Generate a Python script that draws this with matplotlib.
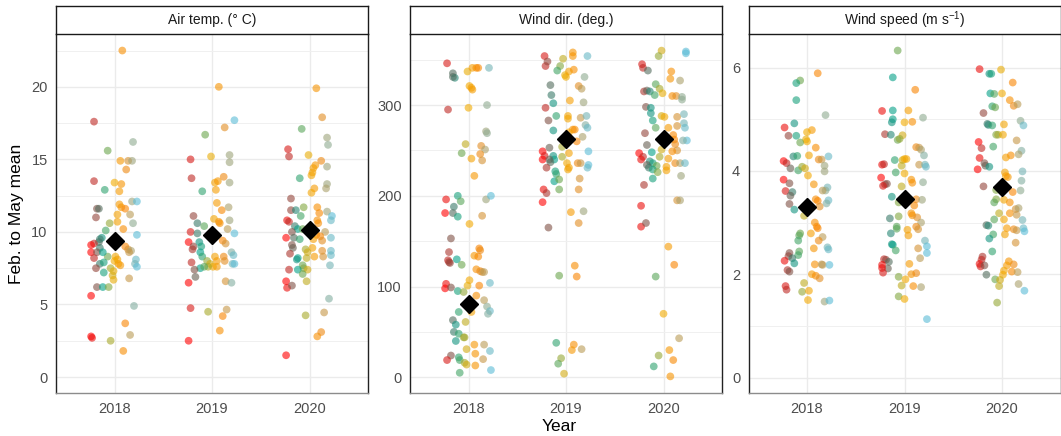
import matplotlib
matplotlib.use('Agg')
import matplotlib.pyplot as plt
import numpy as np
from matplotlib.colors import LinearSegmentedColormap
from matplotlib.ticker import MultipleLocator

plt.rcParams['font.family'] = ['Liberation Sans', 'DejaVu Sans']
plt.rcParams['mathtext.fontset'] = 'custom'
plt.rcParams['mathtext.rm'] = 'Liberation Sans'
plt.rcParams['mathtext.it'] = 'Liberation Sans:italic'

# ---------------- data ----------------
years = [2018, 2019, 2020]
panel_titles = ['Air temp. (° C)', 'Wind dir. (deg.)', 'Wind speed (m s$^{-1}$)']
y_label = 'Feb. to May mean'
x_label = 'Year'

# jitter (hundredths of a year) and value for every station point
air_2018_jit = [8,-21,19,-7,-21,6,14,18,12,0,7,-10,5,18,23,5,7,11,-18,-16,-19,3,16,19,-5,3,9,-9,23,-13,-16,-21,-24,-15,11,14,17,-24,-18,-7,-21,1,3,22,21,23,6,-15,-11,-19,-11,-4,-1,-2,-1,15,-18,-12,-6,-24,20,11,16,-4,-24,-23,9,-15,-12,0,4,15]
air_2018_val = [22.5,17.6,16.2,15.6,13.5,14.9,14.9,14.9,14.3,13.4,13.3,12.9,12.8,12.1,12.1,11.9,11.7,11.6,11.6,11.6,11.0,11.2,11.2,10.6,10.6,10.7,10.2,10.1,9.8,9.6,9.3,9.2,9.1,8.9,9.0,8.8,8.7,8.6,8.6,8.3,8.2,8.3,8.1,8.1,7.8,7.6,7.7,7.8,7.9,7.5,7.2,7.5,7.3,7.0,6.7,6.8,6.2,6.2,6.2,5.6,4.9,3.7,2.9,2.5,2.8,2.7,1.8,9.5,8.6,8.0,7.8,8.6]
air_2019_jit = [7,23,13,-7,-22,-1,18,18,-21,12,3,6,18,-10,4,5,10,17,-19,18,2,7,8,-15,-8,-22,16,23,-15,-24,-19,-20,-13,-11,-12,-10,11,14,20,22,21,23,3,5,-5,-2,1,-4,12,13,-21,-12,-8,-18,-17,5,14,20,-24,-22,-4,15,11,8,-24]
air_2019_val = [20.0,17.7,17.2,16.7,15.0,15.2,15.3,14.8,13.7,13.8,13.4,13.5,13.4,12.8,12.9,12.0,11.5,11.7,11.1,10.8,10.9,10.7,10.6,10.6,10.4,10.0,10.2,9.9,9.9,9.3,9.0,8.8,9.3,9.0,8.6,8.3,9.4,9.2,8.6,8.4,7.8,7.8,8.3,8.0,8.0,7.8,7.6,7.6,8.3,8.0,7.9,7.5,7.6,7.4,6.9,7.6,6.6,6.5,6.5,4.75,4.5,4.65,4.2,3.2,2.5]
air_2020_jit = [7,13,-8,-22,-21,18,19,-1,12,6,4,18,-10,3,2,18,17,5,2,-19,8,-19,-14,-6,18,23,10,-9,-23,-21,8,9,22,-15,-12,-7,5,16,-18,7,11,22,-24,-16,-10,4,13,-18,-17,3,-4,-2,22,13,-20,-12,-13,-3,5,14,22,-7,-6,21,-12,-2,-21,-7,-3,-24,-23,-18,20,-4,15,12,8,-24]
air_2020_val = [19.9,17.9,17.1,15.7,15.2,16.5,16.0,15.3,14.9,14.6,14.4,14.5,13.7,14.1,13.9,13.3,13.0,13.0,12.7,12.3,11.7,11.5,11.5,11.7,11.4,11.1,11.3,11.1,10.8,10.7,10.8,10.6,10.8,10.4,10.2,10.2,10.1,10.0,10.0,9.8,9.7,9.6,9.6,9.6,9.5,9.5,9.4,9.1,8.9,8.9,8.8,8.6,8.7,8.7,8.5,8.2,8.1,8.2,8.3,8.3,8.4,7.7,7.5,7.7,7.4,7.4,7.4,7.1,6.6,6.6,6.15,6.3,5.4,4.25,4.45,3.1,2.8,1.5]

dir_2018_jit = [-22,-16,-14,-16,-21,-1,4,8,10,21,1,3,4,0,19,18,19,-3,-7,13,17,12,3,14,6,-23,-11,-8,18,23,-15,-24,-16,-11,14,1,-18,-20,11,12,-21,-20,-19,-12,-7,6,10,8,12,14,16,-23,-24,-18,22,1,11,-1,-11,-5,8,16,3,19,-10,3,22,20,-16,-3,-13,-15,-10,-13,-5,-4,6,16,22,-2,-18,7,-10,-9,-22,15,-4,7,-2,23,-9]
dir_2018_val = [346,335,330,331,295,337,341,341,341,341,321,319,317,297,300,271,269,257,247,255,251,246,241,239,222,196,200,194,196,200,188,181,181,177,178,169,153,138,142,140,129,127,126,130,124,134,133,119,117,116,116,103,98,99,104,107,101,101,95,94,90,85,81,78,72,72,73,70,63,61,58,50,48,40,44,44,36,36,29,31,24,26,22,19,19,20,16,13,14,8,5]
dir_2019_jit = [-22,-21,-19,7,7,-3,-6,-9,-1,0,3,8,22,19,-16,13,16,-15,-13,4,-21,18,-10,2,2,15,-18,21,20,22,-13,7,9,3,17,11,-17,-24,23,-4,3,-22,-24,-13,-12,-4,-17,-16,-20,12,15,23,22,1,2,3,-11,-10,-12,-7,14,-7,-23,-20,13,-24,5,18,13,-18,9,11,-7,-10,8,6,16,-5,-8,-2]
dir_2019_val = [354,343,348,358,354,351,343,338,333,331,337,339,354,331,322,321,318,311,302,305,297,303,288,288,285,286,283,288,278,275,272,273,273,270,265,260,253,249,249,254,247,244,240,244,240,243,240,237,231,236,236,234,231,236,229,231,227,224,216,218,219,207,207,203,207,193,182,183,170,165,123,111,112,38,36,30,31,21,15,4]
dir_2020_jit = [-2,-5,23,23,-22,-21,-16,8,7,17,-8,-4,-20,-17,-14,-9,-1,9,13,19,19,-18,-13,-13,-11,-2,1,14,21,21,22,-8,5,14,-19,10,11,12,24,20,-17,-2,14,9,-25,-21,-23,-12,-4,5,-14,-11,-17,-15,3,3,12,17,22,-7,-11,-6,18,-11,-20,14,17,-23,-23,-18,5,11,-8,0,16,6,10,-5,-10,7]
dir_2020_val = [360,354,359,357,345,341,338,337,329,327,323,318,315,316,315,311,313,310,310,309,306,298,297,291,283,288,287,287,290,280,275,275,275,277,269,267,262,257,261,261,256,251,250,249,247,243,240,248,243,241,238,236,234,231,232,228,236,236,236,233,229,226,222,219,212,195,195,189,166,170,144,124,111,70,43,30,19,24,12,1]

spd_2018_jit = [11,-7,-11,-11,19,-23,-13,-19,-11,5,0,-1,0,-7,9,-24,-21,-14,-10,2,12,15,22,-17,-9,-5,-2,18,18,1,-24,-18,7,21,19,-22,-15,16,-17,9,11,22,20,-18,13,-13,-3,8,10,11,-7,-8,4,16,12,-9,7,21,22,-8,-9,-18,-19,-15,-23,-13,8,15,16,23,-20,-18,5,9,13,-3,-22,-21,-5,2,1,18,23]
spd_2018_val = [5.89,5.75,5.70,5.37,5.08,4.84,4.92,4.68,4.68,4.79,4.75,4.61,4.57,4.55,4.45,4.19,4.15,4.28,4.29,4.30,4.22,4.22,4.28,4.05,4.01,4.08,4.05,4.10,3.99,3.91,3.83,3.76,3.74,3.68,3.62,3.61,3.59,3.62,3.52,3.45,3.42,3.43,3.37,3.36,3.31,3.25,3.13,3.00,2.92,2.89,2.79,2.75,2.79,2.72,2.65,2.65,2.50,2.52,2.48,2.44,2.37,2.41,2.35,2.31,2.26,2.21,2.19,2.19,2.18,2.18,2.08,2.05,2.00,1.97,1.92,1.83,1.77,1.70,1.66,1.68,1.50,1.47,1.49]
spd_2019_jit = [-7,-12,11,-23,-12,4,0,8,19,-12,-13,-20,-14,-2,-7,-5,12,15,17,20,-10,-2,0,2,-23,-21,15,21,22,-3,-9,0,-24,7,-20,-18,-22,-3,8,19,-13,12,18,-6,10,7,8,13,-6,-15,17,-8,-8,12,14,-14,3,4,21,-13,-12,23,-9,14,23,16,-21,-19,-16,-23,-17,5,-23,-22,7,12,-6,1,-3,9,17,-6,0,23]
spd_2019_val = [6.33,5.81,5.57,5.16,5.17,5.17,4.94,4.95,5.03,5.00,4.94,4.71,4.70,4.69,4.60,4.62,4.46,4.45,4.41,4.30,4.21,4.21,4.23,4.23,4.12,4.13,4.12,4.12,4.08,4.10,3.97,3.95,3.87,3.83,3.74,3.75,3.71,3.70,3.77,3.78,3.50,3.45,3.44,3.39,3.33,3.18,3.14,3.10,3.12,3.08,3.00,2.92,2.88,2.92,2.87,2.79,2.86,2.75,2.65,2.58,2.57,2.54,2.46,2.50,2.41,2.31,2.29,2.28,2.24,2.18,2.11,2.20,2.12,2.03,2.00,2.02,1.95,1.90,1.78,1.77,1.75,1.57,1.52,1.13]
spd_2020_jit = [-23,-13,-11,-1,11,-12,-8,0,8,12,16,-10,-7,-19,19,22,-15,-14,-10,2,-6,-4,1,15,-24,-21,-9,20,17,9,4,-23,-18,-17,-13,-25,21,3,4,6,20,-19,-6,11,19,-6,-8,2,8,14,17,-3,8,2,15,-8,21,-16,-14,5,12,15,22,23,3,-9,-13,14,-10,-20,-21,-23,-22,-18,7,12,5,2,10,16,-16,1,-7,-2,-3,17,23,-5]
spd_2020_val = [5.97,5.88,5.88,5.96,5.71,5.50,5.49,5.50,5.37,5.26,5.29,5.25,5.23,5.12,4.97,4.88,4.91,4.89,4.88,4.90,4.70,4.70,4.70,4.59,4.56,4.44,4.47,4.39,4.32,4.30,4.26,4.25,4.15,4.10,4.08,4.03,3.99,3.97,3.90,3.88,3.81,3.70,3.63,3.59,3.62,3.45,3.39,3.44,3.39,3.26,3.28,3.18,3.18,3.06,3.15,3.06,3.05,2.95,2.94,2.89,2.87,2.85,2.89,2.83,2.77,2.77,2.69,2.61,2.44,2.34,2.28,2.20,2.15,2.17,2.25,2.19,2.17,2.07,2.05,2.04,1.99,1.99,1.90,1.89,1.77,1.81,1.68,1.45]

# means (black diamonds)
air_means = [9.35, 9.8, 10.15]
dir_means = [81, 263, 263]
spd_means = [3.31, 3.46, 3.68]

# axis settings per panel
y_limits = [(-1.1, 23.64), (-17.3, 378.3), (-0.30, 6.65)]
y_major = [5, 100, 2]
y_minor = [2.5, 50, 1]

panels = [
    ([(air_2018_jit, air_2018_val), (air_2019_jit, air_2019_val), (air_2020_jit, air_2020_val)], air_means),
    ([(dir_2018_jit, dir_2018_val), (dir_2019_jit, dir_2019_val), (dir_2020_jit, dir_2020_val)], dir_means),
    ([(spd_2018_jit, spd_2018_val), (spd_2019_jit, spd_2019_val), (spd_2020_jit, spd_2020_val)], spd_means),
]

palette = ['#FF0000', '#00A08A', '#F2AD00', '#F98400', '#5BBCD6']
cmap = LinearSegmentedColormap.from_list('darjeeling', palette)

# ---------------- figure ----------------
W, H = 1061, 436
fig = plt.figure(figsize=(W / 100, H / 100), dpi=100)
lefts = [56, 410, 748.5]
pw = 312
ptop, pbot = 34, 393
strip_top = 6

for k, (series, means) in enumerate(panels):
    ax = fig.add_axes([lefts[k] / W, 1 - pbot / H, pw / W, (pbot - ptop) / H])
    ax.set_axisbelow(True)
    for i, (jit, val) in enumerate(series):
        jit = np.asarray(jit, dtype=float)
        val = np.asarray(val, dtype=float)
        n = min(len(jit), len(val))
        jit, val = jit[:n], val[:n]
        t = np.clip((jit + 24) / 47, 0, 1)
        cols = cmap(t)
        cols[:, 3] = 0.6
        ax.scatter(years[i] + jit / 100.0, val, s=31, c=cols, linewidths=0, zorder=2)
    ax.plot(years, means, linestyle='none', marker='D', color='black', ms=9.5, zorder=3)

    ax.set_xlim(2017.4, 2020.6)
    ax.set_ylim(*y_limits[k])
    ax.set_xticks(years)
    ax.set_xticklabels([str(y) for y in years])
    ax.yaxis.set_major_locator(MultipleLocator(y_major[k]))
    ax.yaxis.set_minor_locator(MultipleLocator(y_minor[k]))
    ax.grid(which='major', color='#EBEBEB', lw=1.0)
    ax.grid(which='minor', axis='y', color='#F0F0F0', lw=0.7)
    ax.tick_params(which='both', length=0, labelsize=10.5, labelcolor='#4D4D4D')
    ax.tick_params(axis='x', pad=6.5)
    ax.tick_params(axis='y', pad=6)
    ax.spines['top'].set_visible(False)
    for s in ['left', 'right']:
        ax.spines[s].set_color('#222222')
        ax.spines[s].set_linewidth(1.0)
    ax.spines['bottom'].set_color('#8C8C8C')
    ax.spines['bottom'].set_linewidth(1.0)

    sax = fig.add_axes([lefts[k] / W, 1 - ptop / H, pw / W, (ptop - strip_top) / H])
    sax.set_xticks([])
    sax.set_yticks([])
    sax.set_facecolor('white')
    for s in sax.spines.values():
        s.set_color('#1A1A1A')
        s.set_linewidth(1.0)
    sax.text(0.5, 0.5, panel_titles[k], ha='center', va='center', fontsize=10,
             color='#1A1A1A', transform=sax.transAxes)

fig.text(17 / W, 1 - 214 / H, y_label, rotation=90, ha='center', va='center', fontsize=12.5, color='black')
fig.text(559 / W, 1 - 426 / H, x_label, ha='center', va='center', fontsize=12.5, color='black')

fig.savefig('out.png', dpi=100, facecolor='white')
